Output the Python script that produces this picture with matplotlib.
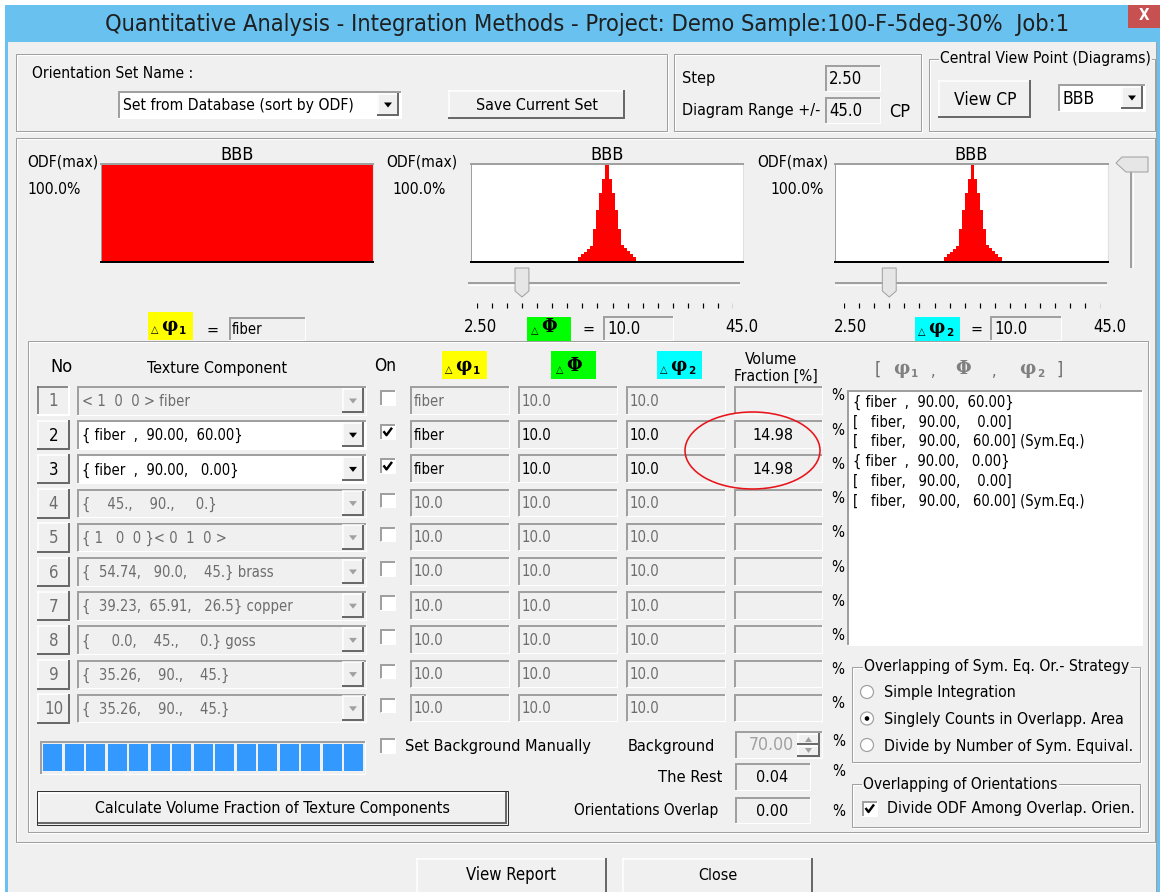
import matplotlib
matplotlib.use('Agg')
import matplotlib.pyplot as plt
from matplotlib.patches import Rectangle, Ellipse, Circle, Polygon
from matplotlib import font_manager

# ---- data -------------------------------------------------------------
title = 'Quantitative Analysis - Integration Methods - Project: Demo Sample:100-F-5deg-30%  Job:1'
set_name = 'Set from Database (sort by ODF)'
step_value = '2.50'
range_value = '45.0'
view_point = 'BBB'

diagram_names = ['BBB', 'BBB', 'BBB']
odf_max = ['100.0%', '100.0%', '100.0%']
dphi1_value = 'fiber'
dPhi_value = 10.0
dphi2_value = 10.0
slider_min, slider_max = 2.5, 45.0
slider_ticks = [2.5, 5.0, 7.5, 10.0, 12.5, 15.0, 17.5, 20.0, 22.5,
                25.0, 27.5, 30.0, 32.5, 35.0, 37.5, 40.0, 42.5, 45.0]

# ODF profiles inside the +/-45 deg window (fraction of ODF max)
phi1_centers = [0.0]
phi1_profile = [1.0]          # fiber -> uniform
profile_deg = [-9, -8, -7, -6, -5, -4, -3, -2, -1, 0, 1, 2, 3, 4, 5, 6, 7, 8, 9]
phi_profile = [0.05, 0.08, 0.10, 0.13, 0.16, 0.34, 0.53, 0.70, 0.85, 1.00,
               0.85, 0.70, 0.53, 0.34, 0.17, 0.14, 0.11, 0.08, 0.05]
phi2_profile = [0.05, 0.08, 0.10, 0.13, 0.16, 0.34, 0.53, 0.70, 0.85, 1.00,
                0.85, 0.70, 0.53, 0.34, 0.17, 0.14, 0.11, 0.08, 0.05]

row_no = ['1', '2', '3', '4', '5', '6', '7', '8', '9', '10']
components = ['< 1  0  0 > fiber',
              '{ fiber  ,  90.00,  60.00}',
              '{ fiber  ,  90.00,   0.00}',
              '{    45.,    90.,     0.}',
              '{ 1   0  0 }< 0  1  0 >',
              '{  54.74,   90.0,    45.} brass',
              '{  39.23,  65.91,   26.5} copper',
              '{     0.0,    45.,     0.} goss',
              '{  35.26,    90.,    45.}',
              '{  35.26,    90.,    45.}']
row_on = [False, True, True, False, False, False, False, False, False, False]
row_active = [False, True, True, False, False, False, False, False, False, False]
col_dphi1 = ['fiber', 'fiber', 'fiber', '10.0', '10.0', '10.0', '10.0', '10.0', '10.0', '10.0']
col_dPhi = ['10.0'] * 10
col_dphi2 = ['10.0'] * 10
vol_fraction = ['', '14.98', '14.98', '', '', '', '', '', '', '']

list_lines = ['{ fiber  ,  90.00,  60.00}',
              '[   fiber,   90.00,    0.00]',
              '[   fiber,   90.00,   60.00] (Sym.Eq.)',
              '{ fiber  ,  90.00,   0.00}',
              '[   fiber,   90.00,    0.00]',
              '[   fiber,   90.00,   60.00] (Sym.Eq.)']

strategy_options = ['Simple Integration', 'Singlely Counts in Overlapp. Area',
                    'Divide by Number of Sym. Equival.']
strategy_selected = 1
progress_blocks = 15
background_value = '70.00'
rest_value = '0.04'
overlap_value = '0.00'

# ---- style ------------------------------------------------------------
W, H = 1160, 892
BG = '#F0F0F0'
SHADOW = '#A0A0A0'
DARKSH = '#696969'
GREYTXT = '#6D6D6D'
TITLEBLUE = '#68C1EF'
PX = 0.72

# prefer a condensed face, like the Windows dialog font
fonts = font_manager.fontManager.ttflist
if any(f.name == 'DejaVu Sans' and f.stretch == 'condensed' for f in fonts):
    UI, STRETCH = 'DejaVu Sans', 'condensed'
elif any(f.name == 'Liberation Sans Narrow' for f in fonts):
    UI, STRETCH = 'Liberation Sans Narrow', 'normal'
else:
    UI, STRETCH = 'Liberation Sans', 'normal'

fig = plt.figure(figsize=(W / 100, H / 100), dpi=100)
fig.patch.set_facecolor('white')
ax = fig.add_axes([0, 0, 1, 1])
ax.set_xlim(0, W)
ax.set_ylim(H, 0)
ax.axis('off')
renderer = fig.canvas.get_renderer()


def fit_size(s, width):
    tmp = ax.text(0, 0, s, fontsize=10, family=UI, fontstretch=STRETCH)
    w = tmp.get_window_extent(renderer).width
    tmp.remove()
    return 10 * width / w


LBL = fit_size('Texture Component', 140)
EDT = fit_size('10.0', 30)


def t(x, y, s, size=None, color='black', ha='left', va='center', width=None, **kw):
    obj = ax.text(x, y, s, fontsize=size or LBL, color=color, ha=ha, va=va,
                  family=kw.pop('family', UI), fontstretch=kw.pop('fontstretch', STRETCH),
                  zorder=kw.pop('zorder', 5), **kw)
    if width:
        w = obj.get_window_extent(renderer).width
        obj.set_fontsize(obj.get_fontsize() * width / w)
    return obj


def box(x0, y0, x1, y1, fc, ec='none', lw=0, z=1):
    ax.add_patch(Rectangle((x0, y0), x1 - x0, y1 - y0, facecolor=fc,
                           edgecolor=ec, linewidth=lw * PX, zorder=z))


def line(xs, ys, c, lw=1, z=2):
    ax.plot(xs, ys, color=c, lw=lw * PX, solid_capstyle='butt', zorder=z)


def sunken(x0, y0, x1, y1, fc=BG, z=1):
    box(x0, y0, x1, y1, fc, z=z)
    line([x0, x1], [y0 + 1, y0 + 1], SHADOW, 2, z + .1)
    line([x0 + 1, x0 + 1], [y0, y1], SHADOW, 2, z + .1)
    line([x0, x1], [y1 - .5, y1 - .5], 'white', 1, z + .1)
    line([x1 - .5, x1 - .5], [y0, y1], 'white', 1, z + .1)


def raised(x0, y0, x1, y1, fc=BG, z=1, pressed=False):
    box(x0, y0, x1, y1, fc, z=z)
    hi, lo = ('white', DARKSH) if not pressed else (DARKSH, 'white')
    line([x0, x1], [y0 + .5, y0 + .5], hi, 1.5, z + .1)
    line([x0 + .5, x0 + .5], [y0, y1], hi, 1.5, z + .1)
    line([x0, x1], [y1 - 1, y1 - 1], lo, 2, z + .1)
    line([x1 - 1, x1 - 1], [y0, y1], lo, 2, z + .1)


def etched(x0, y0, x1, y1, label=None, lx=None, width=None, z=1):
    ax.add_patch(Rectangle((x0 + 1, y0 + 1), x1 - x0, y1 - y0, fill=False,
                           edgecolor='white', linewidth=PX, zorder=z))
    ax.add_patch(Rectangle((x0, y0), x1 - x0, y1 - y0, fill=False,
                           edgecolor=SHADOW, linewidth=PX, zorder=z))
    if label:
        t(lx, y0, label, width=width,
          bbox=dict(facecolor=BG, edgecolor='none', pad=1))


def arrow(cx, cy, c='black', s=4):
    ax.add_patch(Polygon([(cx - s, cy - s / 2), (cx + s, cy - s / 2), (cx, cy + s / 2 + 1)],
                         closed=True, facecolor=c, edgecolor='none', zorder=4))


def combo(x0, y0, x1, y1, text, fc='white', tc='black', width=None, size=None, bw=22):
    sunken(x0, y0, x1, y1, fc)
    raised(x1 - bw - 2, y0 + 2, x1 - 2, y1 - 2, z=2)
    arrow(x1 - 2 - bw / 2, (y0 + y1) / 2, tc if tc == 'black' else SHADOW)
    t(x0 + 5, (y0 + y1) / 2 + 1, text, color=tc, width=width, size=size)


def checkbox(x0, y0, checked, fc='white'):
    sunken(x0, y0, x0 + 15, y0 + 15, fc, z=3)
    if checked:
        line([x0 + 3.5, x0 + 6.5, x0 + 12], [y0 + 7, y0 + 11, y0 + 3.5], 'black', 2.4, 4)


def greek(x, y, letter, sub='', color='black'):
    ax.text(x, y, letter, fontsize=13, family='DejaVu Serif', weight='bold',
            ha='left', va='center', color=color, zorder=5)
    if sub:
        ax.text(x + 18, y + 5, sub, fontsize=7.5, family='DejaVu Sans', weight='bold',
                ha='left', va='center', color=color, zorder=5)


def delta_sym(x, y, letter, sub=''):
    ax.text(x, y + 4, '△', fontsize=7, family='DejaVu Sans', ha='left', va='center', zorder=5)
    greek(x + 10, y, letter, sub)


# ---- window frame -----------------------------------------------------
box(5, 5, W, H, TITLEBLUE, z=0)
box(8, 42, 1156, H, BG, z=0.5)
line([1156, 1156], [42, H], SHADOW, 1)
t(587, 24, title, color='#1F1F1F', ha='center', width=960)
box(1128, 5, W, 28, '#C75050', z=1)
t(1144, 16, 'X', color='white', ha='center', size=11, weight='bold', family='DejaVu Sans')

# ---- top groups -------------------------------------------------------
etched(16, 54, 667, 131)
t(32, 74, 'Orientation Set Name :', width=160)
combo(118, 91, 401, 118, set_name, width=230)
raised(448, 90, 625, 119)
t(536.5, 105, 'Save Current Set', ha='center', width=122)

etched(674, 54, 921, 131)
t(682, 79, 'Step', width=33)
sunken(825, 65, 880, 91)
t(829, 78.5, step_value, width=33)
t(682, 111, 'Diagram Range +/-', width=138)
sunken(825, 97, 880, 123)
t(829, 110.5, range_value, width=33)
t(889, 112, 'CP', width=21)

etched(929, 59, 1155, 131, 'Central View Point (Diagrams)', 940, 209)
raised(938, 80, 1031, 118)
t(985, 100, 'View CP', ha='center', width=62)
combo(1058, 84, 1145, 111, view_point, width=32)

# ---- diagrams ---------------------------------------------------------
etched(16, 138, 1155, 842)


def diagram(x0, y0, x1, y1, centers, heights, width):
    a = fig.add_axes([x0 / W, 1 - y1 / H, (x1 - x0) / W, (y1 - y0) / H])
    a.set_xlim(-float(range_value), float(range_value))
    a.set_ylim(0, 1)
    a.set_facecolor('white')
    a.bar(centers, heights, width=width, color='red', linewidth=0)
    a.set_xticks([])
    a.set_yticks([])
    a.spines['top'].set_color(SHADOW)
    a.spines['top'].set_linewidth(2 * PX)
    a.spines['left'].set_color(SHADOW)
    a.spines['left'].set_linewidth(1 * PX)
    a.spines['right'].set_color('#E0E0E0')
    a.spines['bottom'].set_color('black')
    a.spines['bottom'].set_linewidth(2 * PX)


def slider(x0, x1, value):
    a = fig.add_axes([x0 / W, 1 - 312 / H, (x1 - x0) / W, 46 / H])
    a.set_xlim(slider_min, slider_max)
    a.set_ylim(312, 266)
    a.axis('off')
    a.plot([-0.034, 1.027], [0.62, 0.62], transform=a.transAxes, color=SHADOW,
           lw=2 * PX, clip_on=False, solid_capstyle='butt')
    a.plot([-0.034, 1.027], [0.59, 0.59], transform=a.transAxes, color='white',
           lw=1 * PX, clip_on=False, solid_capstyle='butt')
    a.vlines(slider_ticks, 303, 308, color='black', lw=1.2 * PX)
    a.fill([value - 1.15, value + 1.15, value + 1.15, value, value - 1.15],
           [268, 268, 291, 297, 291], facecolor='#E6E6E6', edgecolor=SHADOW,
           lw=1 * PX, zorder=3)


diag_x = [(101, 373), (471, 743), (835, 1108)]
odf_x = [(27, 27), (386, 392), (757, 770)]
for (x0, x1), (ox, px), name, mx in zip(diag_x, odf_x, diagram_names, odf_max):
    t(ox, 162, 'ODF(max)', width=71)
    t(px, 189, mx, width=53)
    t((x0 + x1) / 2, 155, name, ha='center', width=33)

diagram(101, 164, 373, 262, phi1_centers, phi1_profile, 2 * float(range_value))
diagram(471, 164, 743, 262, profile_deg, phi_profile, 1.0)
diagram(835, 164, 1108, 262, [d + 0.4 for d in profile_deg], phi2_profile, 1.0)
slider(476.7, 733.3, dPhi_value)
slider(844, 1100.5, dphi2_value)

# value rows under the diagrams
box(148, 312, 193, 340, '#FFFF00')
delta_sym(151, 326, 'φ', '1')
t(207, 330, '=')
sunken(229, 317, 305, 340)
t(232, 329, dphi1_value, width=30)

t(464, 327, '2.50', width=33)
box(527, 317, 571, 341, '#00FF00')
delta_sym(531, 327, 'Φ')
t(582, 329, '=')
sunken(603, 316, 673, 340)
t(607, 328.5, '%.1f' % dPhi_value, width=33)
t(725, 327, '45.0', width=33)

t(834, 327, '2.50', width=33)
box(915, 317, 960, 341, '#00FFFF')
delta_sym(918, 328, 'φ', '2')
t(970, 329, '=')
sunken(990, 316, 1061, 340)
t(994, 328.5, '%.1f' % dphi2_value, width=33)
t(1093, 327, '45.0', width=33)

# vertical slider on the right
line([1131, 1131], [172, 268], SHADOW, 2)
line([1133, 1133], [172, 268], 'white', 1)
ax.add_patch(Polygon([(1116, 163), (1122, 157), (1148, 157), (1148, 172), (1126, 172)],
                     closed=True, facecolor='#E6E6E6', edgecolor=SHADOW,
                     linewidth=PX, zorder=3))

# ---- table ------------------------------------------------------------
etched(28, 341, 1148, 832)
t(50, 367, 'No', width=22)
t(147, 369, 'Texture Component', width=140)
t(374, 366, 'On', width=22)
box(442, 351, 487, 379, '#FFFF00')
delta_sym(445, 366, 'φ', '1')
box(551, 351, 596, 379, '#00FF00')
delta_sym(556, 366, 'Φ')
box(657, 351, 702, 379, '#00FFFF')
delta_sym(660, 366, 'φ', '2')
t(771, 360, 'Volume', ha='center', width=52)
t(776, 376, 'Fraction [%]', ha='center', width=83)

# header of the list: [ phi1 , Phi , phi2 ]
t(875, 370, '[', color=GREYTXT, size=LBL * 1.1)
greek(893, 369, 'φ', '1', color='#808080')
t(931, 372, ',', color=GREYTXT)
greek(955, 369, 'Φ', color='#808080')
t(992, 372, ',', color=GREYTXT)
greek(1019, 369, 'φ', '2', color='#808080')
t(1056, 370, ']', color=GREYTXT, size=LBL * 1.1)

comp_size = fit_size('{ fiber  ,  90.00,  60.00}', 162)
for i in range(len(row_no)):
    yc = 400 + 34.2 * i
    on = row_active[i]
    tc = 'black' if on else GREYTXT
    raised(37, yc - 14, 70, yc + 16, pressed=(i == 0))
    t(53.5, yc + 1.5, row_no[i], ha='center', color=tc, size=LBL * 1.05)
    combo(77, yc - 14, 366, yc + 15, components[i], fc='white' if on else BG, tc=tc,
          size=comp_size)
    checkbox(380, yc - 10, row_on[i])
    for (x0, x1), val in zip([(410, 509), (518, 617), (626, 725)],
                             [col_dphi1[i], col_dPhi[i], col_dphi2[i]]):
        sunken(x0, yc - 14, x1, yc + 14)
        t(x0 + 4, yc + 1, val, size=EDT, color=tc)
    sunken(734, yc - 14, 822, yc + 14)
    if vol_fraction[i]:
        t(772.5, yc + 1, vol_fraction[i], ha='center', width=41)
    t(831, yc - 4, '%', size=LBL * 0.95)

ax.add_patch(Ellipse((752.5, 450.5), 135, 77, fill=False, edgecolor='#E8141B',
                     linewidth=1.6 * PX, zorder=6))

# list of orientations
sunken(847, 390, 1142, 645, 'white')
for k, s in enumerate(list_lines):
    t(853, 402 + 19.9 * k, s, size=comp_size)

# ---- strategy groups --------------------------------------------------
etched(852, 667, 1140, 762, 'Overlapping of Sym. Eq. Or.- Strategy', 864, 263)
for k, s in enumerate(strategy_options):
    yc = 692 + 26.5 * k
    ax.add_patch(Circle((867, yc), 6.5, facecolor='white', edgecolor=SHADOW,
                        linewidth=1.2 * PX, zorder=3))
    if k == strategy_selected:
        ax.add_patch(Circle((867, yc), 2.3, facecolor='black', zorder=4))
    t(884, yc + 1, s)
etched(852, 784, 1140, 827, 'Overlapping of Orientations', 863, 193)
checkbox(862, 801, True)
t(887, 809, 'Divide ODF Among Overlap. Orien.', width=247)

# ---- bottom left controls ---------------------------------------------
sunken(40, 741, 365, 774)
for k in range(progress_blocks):
    box(43 + 21.5 * k, 744, 43 + 21.5 * k + 19, 771, '#3399FF', z=2)
checkbox(380, 738, False)
t(405, 746, 'Set Background Manually', width=184)
t(715, 746, 'Background', ha='right', width=87)
sunken(735, 731, 822, 758)
t(794, 744.5, background_value, ha='right', color='#A0A0A0', width=45)
raised(797, 733, 820, 745)
raised(797, 745, 820, 757)
ax.add_patch(Polygon([(805, 742), (812, 742), (808.5, 737)], facecolor=SHADOW, zorder=4))
ax.add_patch(Polygon([(805, 748), (812, 748), (808.5, 753)], facecolor=SHADOW, zorder=4))
t(832, 741, '%', size=LBL * 0.95)

t(722, 777, 'The Rest', ha='right', width=64)
sunken(735, 763, 810, 790)
t(772.5, 777, rest_value, ha='center', width=32)
t(832, 771, '%', size=LBL * 0.95)

box(37, 791, 508, 825, 'none', ec='#333333', lw=1, z=3)
raised(38, 792, 507, 824)
t(272.5, 808, 'Calculate Volume Fraction of Texture Components', ha='center', width=354)

t(718, 810, 'Orientations Overlap', ha='right', width=144)
sunken(735, 797, 810, 823)
t(772.5, 811, overlap_value, ha='center', width=32)
t(832, 811, '%', size=LBL * 0.95)

# ---- dialog buttons ---------------------------------------------------
raised(416, 858, 607, 898)
t(511.5, 875, 'View Report', ha='center', width=89)
raised(622, 858, 813, 898)
t(717.5, 875, 'Close', ha='center', width=39)

fig.savefig('out.png', dpi=100, facecolor=fig.get_facecolor())
